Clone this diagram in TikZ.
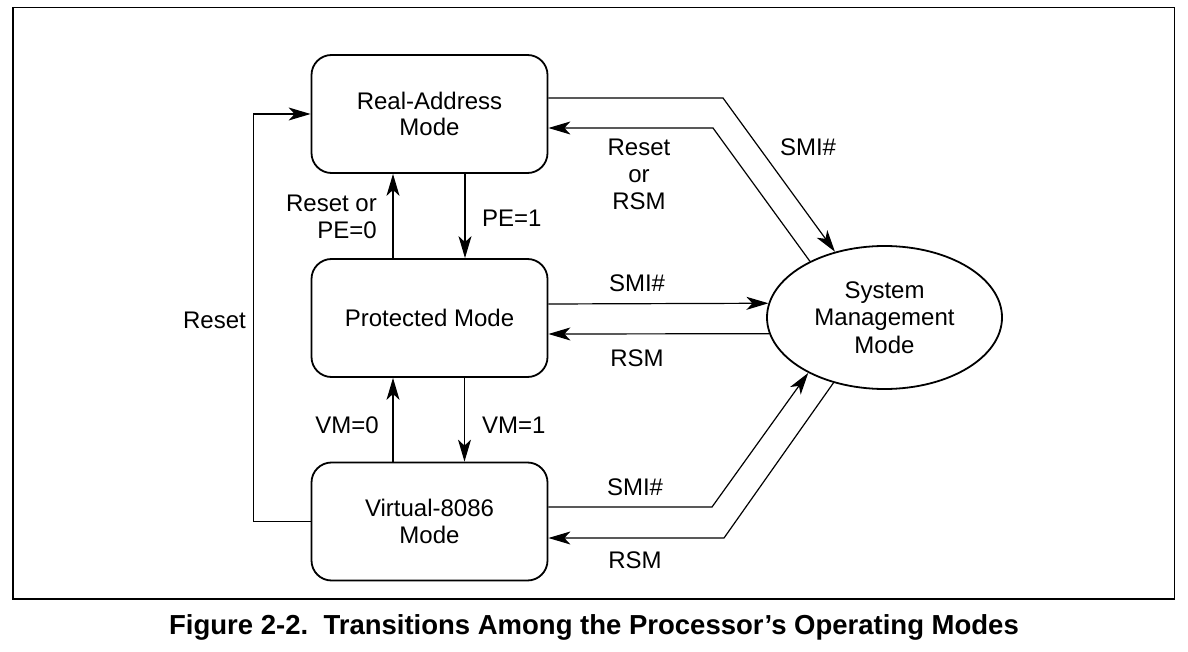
\documentclass[tikz,border=0pt]{standalone}
\usepackage{fontspec}
\setmainfont{Liberation Sans}
\usetikzlibrary{arrows.meta,shapes.geometric}
\tikzset{
  modebox/.style={draw, line width=1.8pt, rounded corners=20pt, minimum width=236pt, minimum height=118pt, inner sep=0pt, align=center, font=\fontsize{24}{26.5}\selectfont},
  smmnode/.style={draw, ellipse, line width=1.8pt, minimum width=235pt, minimum height=143pt, inner sep=0pt, align=center, font=\fontsize{24}{27.5}\selectfont},
  arr/.style={line width=1.2pt, -{Stealth[length=22pt,width=13pt,inset=6pt]}},
  lbl/.style={inner sep=0pt, font=\fontsize{24}{27}\selectfont},
}
\begin{document}
\begin{tikzpicture}[x=1pt,y=-1pt]
\useasboundingbox (0,0) rectangle (1188,652);
\draw[line width=1.5pt] (13,7.5) rectangle (1174.5,599);
\node[modebox] (real) at (429.5,114) {Real-Address\\Mode};
\node[modebox] (prot) at (429.5,318) {Protected Mode};
\node[modebox] (v86) at (429.5,521.5) {Virtual-8086\\Mode};
\node[smmnode] (smm) at (884.5,317.5) {System\\Management\\Mode};
% Reset loop
\draw[arr] (v86.west) -- ++(-57,0) |- (real.west);
\node[lbl] (lreset) at (214.5,320) {Reset};
% Real <-> Protected
\draw[arr] ([xshift=-36.5pt]prot.north) -- ([xshift=-36.5pt]real.south);
\draw[arr] ([xshift=35.5pt]real.south) -- ([xshift=35.5pt]prot.north);
\node[lbl, anchor=east, align=right] (lpe0) at (377,216.5) {Reset or\\PE=0};
\node[lbl, anchor=west] (lpe1) at (482,218) {PE=1};
% Protected <-> V86
\draw[arr] ([xshift=-36.5pt]v86.north) -- ([xshift=-36.5pt]prot.south);
\draw[arr] ([xshift=35pt]prot.south) -- ([xshift=35pt]v86.north);
\node[lbl, anchor=east] (lvm0) at (379,425) {VM=0};
\node[lbl, anchor=west] (lvm1) at (482,425) {VM=1};
% Real <-> SMM
\coordinate (b1) at (723,98);
\coordinate (b2) at (713,128);
\draw[arr] ([yshift=16pt]real.east) -- (b1) -- (smm.127);
\draw[arr] (smm.143.6) -- (b2) -- ([yshift=-14pt]real.east);
\node[lbl] (lsmi1) at (808,147) {SMI\#};
\node[lbl, align=center] (lrsm1) at (639,174.5) {Reset\\or\\RSM};
% Protected <-> SMM
\draw[arr] ([yshift=14pt]prot.east) -- (smm.173.3);
\draw[arr] (smm.188.2) -- ([yshift=-16pt]prot.east);
\node[lbl] (lsmi2) at (637,283) {SMI\#};
\node[lbl] (lrsm2) at (637,358) {RSM};
% V86 <-> SMM
\coordinate (b3) at (712,507);
\coordinate (b4) at (724,538);
\draw[arr] ([yshift=14.5pt]v86.east) -- (b3) -- (smm.216.9);
\draw[arr] (smm.232.8) -- (b4) -- ([yshift=-16.5pt]v86.east);
\node[lbl] (lsmi3) at (635,487) {SMI\#};
\node[lbl] (lrsm3) at (635,560) {RSM};
% Caption
\node[inner sep=0pt, font=\fontsize{27.5}{30}\selectfont\bfseries] (cap) at (594,627) {Figure 2-2.\ \ Transitions Among the Processor’s Operating Modes};
\end{tikzpicture}
\end{document}
